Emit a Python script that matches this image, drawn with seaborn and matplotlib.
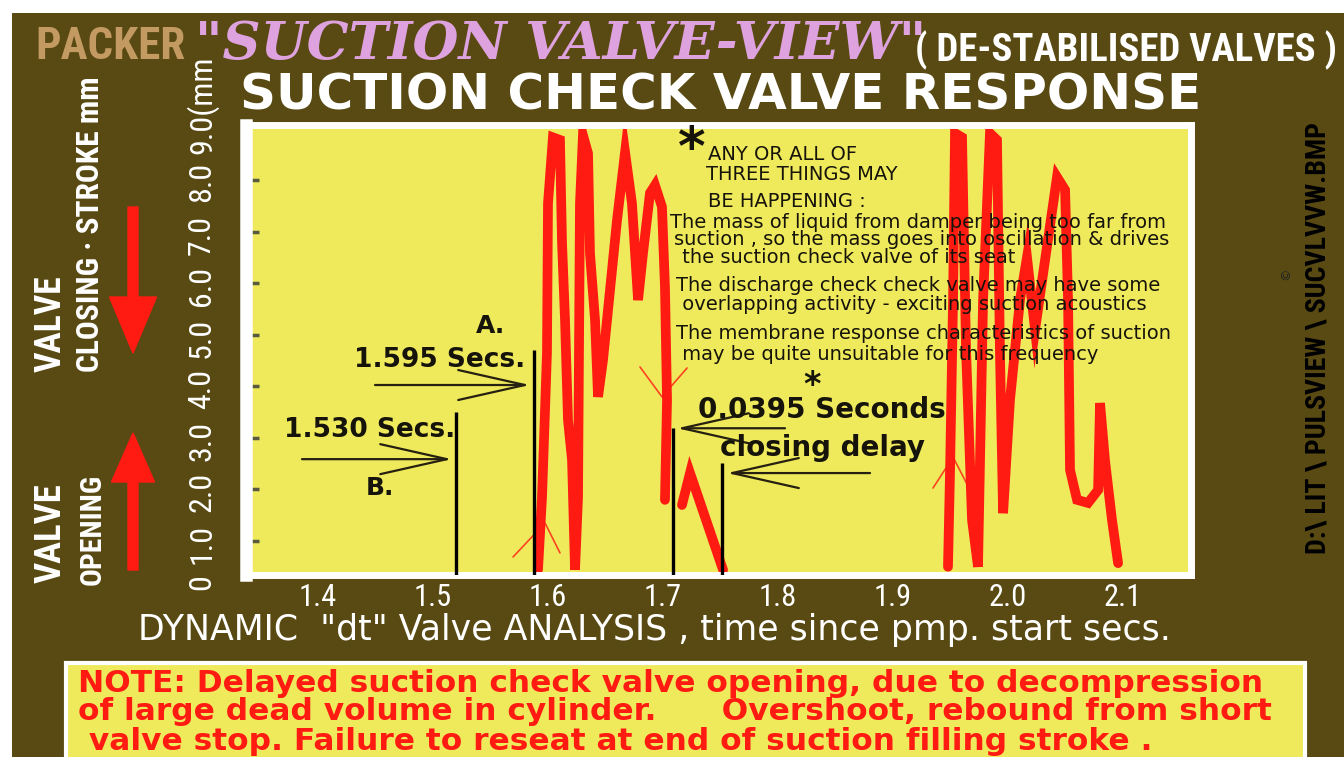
import numpy as np
import pandas as pd
import matplotlib
matplotlib.use('Agg')
import matplotlib.pyplot as plt
import matplotlib.transforms as mtransforms
import matplotlib.font_manager as fm
from matplotlib.patches import Rectangle, FancyArrow
import seaborn as sns

# ---- values: time since pump start (s) vs valve stroke (mm)
burst1_t = [1.5913, 1.5948, 1.5991, 1.6000, 1.6043, 1.6104, 1.6122, 1.6148, 1.6174, 1.6209,
            1.6235, 1.6261, 1.6278, 1.6304, 1.6348, 1.6365, 1.6409, 1.6435, 1.6478, 1.6513,
            1.6600, 1.6670, 1.6730, 1.6783, 1.6826, 1.6887, 1.6930, 1.6991, 1.7017, 1.7035, 1.7017]
burst1_mm = [0.43, 1.84, 4.64, 7.55, 8.83, 8.78, 6.78, 5.28, 3.34, 2.56,
             0.43, 1.84, 7.55, 8.87, 8.52, 6.58, 5.28, 3.79, 4.50, 5.28,
             7.22, 8.54, 7.55, 5.67, 6.58, 7.75, 7.90, 7.48, 5.92, 3.73, 1.79]
rebound_t = [1.7165, 1.7235, 1.7522]
rebound_mm = [1.69, 2.31, 0.43]
burst2_t = [1.9478, 1.9496, 1.9522, 1.9539, 1.9600, 1.9635, 1.9687, 1.9739, 1.9783, 1.9843,
            1.9904, 1.9930, 1.9957, 2.0017, 2.0104, 2.0165, 2.0235, 2.0322, 2.0426, 2.0496,
            2.0522, 2.0539, 2.0600, 2.0696, 2.0783, 2.0800, 2.0843, 2.0904, 2.0957]
burst2_mm = [0.49, 2.37, 5.67, 8.91, 8.83, 4.70, 1.40, 0.49, 5.67, 8.91,
             8.78, 4.64, 1.53, 3.73, 5.67, 6.50, 5.09, 6.45, 8.06, 7.81,
             5.67, 2.37, 1.79, 1.73, 1.98, 3.67, 2.56, 1.40, 0.56]

# timing markers (black verticals) and their pointer arrows
marker_t = [1.520, 1.588, 1.709, 1.751]
marker_top = [3.50, 4.70, 3.18, 2.50]
pointer_tail_t = [1.4496, 1.3861, 1.8061, 1.8800]
pointer_head_t = [1.5843, 1.5165, 1.7122, 1.7557]
pointer_mm = [4.02, 2.58, 3.18, 2.31]

# thin red carets
caret_open_t = [1.5696, 1.5974, 1.6104]
caret_open_mm = [0.68, 1.34, 0.76]
caret_close_t = [1.6800, 1.6991, 1.7209]
caret_close_mm = [4.37, 3.79, 4.35]
caret_reopen_t = [1.9348, 1.9522, 1.9670]
caret_reopen_mm = [2.02, 2.62, 1.98]

x_ticks = [1.4, 1.5, 1.6, 1.7, 1.8, 1.9, 2.0, 2.1]
x_tick_labels = ['1.4', '1.5', '1.6', '1.7', '1.8', '1.9', '2.0', '2.1']
y_ticks = [1, 2, 3, 4, 5, 6, 7, 8]
y_label_pos = [0.20, 0.94, 1.94, 2.94, 3.94, 4.94, 5.94, 6.94, 7.97, 8.50]
y_label_text = ['0', '1.0', '2.0', '3.0', '4.0', '5.0', '6.0', '7.0', '8.0', '9.0(mm']

head_lines = ['ANY OR ALL OF', 'THREE THINGS MAY', 'BE HAPPENING :']
head_t = [1.7391, 1.7374, 1.7391]
head_mm = [8.50, 8.10, 7.59]
notes = ['The mass of liquid from damper being too far from',
         'suction , so the mass goes into oscillation & drives',
         ' the suction check valve of its seat',
         'The discharge check check valve may have some',
         ' overlapping activity - exciting suction acoustics',
         'The membrane response characteristics of suction',
         ' may be quite unsuitable for this frequency']
notes_t = [1.7061, 1.7095, 1.7113, 1.7113, 1.7113, 1.7113, 1.7113]
notes_mm = [7.18, 6.85, 6.49, 5.96, 5.59, 5.03, 4.62]

note_lines = ['NOTE: Delayed suction check valve opening, due to decompression',
              'of large dead volume in cylinder.      Overshoot, rebound from short',
              ' valve stop. Failure to reseat at end of suction filling stroke .']

OLIVE = '#584a12'
YELLOW = '#efe95c'
RED = '#ff1a12'
PINK = '#dea2df'
TAN = '#c29a62'
INK = '#16140a'

sns.set_theme(style='white')
plt.rcParams['font.family'] = ['DejaVu Sans']


# pick a narrow sans face if one is installed
def _num(v, table, default):
    return table.get(v, default) if isinstance(v, str) else v


def pick_narrow(bold):
    prefs = ['Liberation Sans Narrow', 'Roboto Condensed', 'DejaVu Sans', 'Noto Sans', 'Open Sans']
    cands = []
    for f in fm.fontManager.ttflist:
        st = _num(f.stretch, fm.stretch_dict, 500)
        wt = _num(f.weight, fm.weight_dict, 400)
        name = f.name.lower()
        narrow = 'narrow' in name or 'condensed' in name or st < 500
        if narrow and f.style == 'normal' and (wt >= 600) == bold:
            rank = prefs.index(f.name) if f.name in prefs else len(prefs)
            cands.append((rank, abs(st - 300), abs(wt - (700 if bold else 400)), f.fname))
    if cands:
        return sorted(cands)[0][3]
    return fm.findfont(fm.FontProperties(family='Liberation Sans',
                                         weight='bold' if bold else 'normal'))


NARROW_B = pick_narrow(True)
NARROW_R = pick_narrow(False)


def nb(size):
    return fm.FontProperties(fname=NARROW_B, size=size)


def nr(size):
    return fm.FontProperties(fname=NARROW_R, size=size)


W, H = 1344, 757
fig = plt.figure(figsize=(W / 100, H / 100), dpi=100)
fig.patch.set_facecolor('white')
renderer = fig.canvas.get_renderer()


def fx(px):
    return px / W


def fy(py):
    return 1 - py / H


def fit(t, target, use_height=False, max_size=None):
    bb = t.get_window_extent(renderer)
    cur = bb.height if use_height else bb.width
    size = t.get_fontsize() * target / cur
    if max_size is not None:
        size = min(size, max_size)
    t.set_fontsize(size)
    return t


# olive backdrop and the note panel
fig.add_artist(Rectangle((fx(12), -0.01), 1, fy(13) + 0.01, transform=fig.transFigure,
                         facecolor=OLIVE, edgecolor='none', zorder=-2))
fig.add_artist(Rectangle((fx(66), -0.05), fx(1305 - 66), fy(663) + 0.05, transform=fig.transFigure,
                         facecolor=YELLOW, edgecolor='white', lw=3, zorder=-1))

ax = fig.add_axes([fx(246), fy(575), fx(1191 - 246), (575 - 125) / H])
ax.set_facecolor(YELLOW)

df = pd.concat([
    pd.DataFrame({'t': burst1_t, 'mm': burst1_mm, 'seg': 'a'}),
    pd.DataFrame({'t': rebound_t, 'mm': rebound_mm, 'seg': 'b'}),
    pd.DataFrame({'t': burst2_t, 'mm': burst2_mm, 'seg': 'c'}),
])
sns.lineplot(data=df, x='t', y='mm', units='seg', estimator=None, sort=False,
             color=RED, lw=7, ax=ax, solid_joinstyle='miter')

for t, m in [(caret_open_t, caret_open_mm), (caret_close_t, caret_close_mm),
             (caret_reopen_t, caret_reopen_mm)]:
    ax.plot(t, m, color=RED, lw=1.2, alpha=0.8)

ax.set_xlim(1.3374, 2.1591)
ax.set_ylim(0.33, 9.07)
ax.vlines(marker_t, 0.33, marker_top, color='black', lw=2.4, zorder=3)
for t0, t1, m in zip(pointer_tail_t, pointer_head_t, pointer_mm):
    ax.annotate('', xy=(t1, m), xytext=(t0, m),
                arrowprops=dict(arrowstyle='->,head_length=4,head_width=0.9',
                                color='#262010', lw=1.6, shrinkA=0, shrinkB=0))

for sp in ax.spines.values():
    sp.set_color('white')
    sp.set_linewidth(5)
ax.spines['left'].set_linewidth(9)

ax.set_xticks(x_ticks)
ax.set_xticklabels(x_tick_labels, color='white', fontproperties=nr(22))
ax.set_yticks(y_ticks)
ax.set_yticklabels([])
ax.tick_params(axis='x', length=0, pad=6)
ax.tick_params(axis='y', direction='in', left=True, length=9, width=2.5, color='#5a5a40', pad=0)
ax.set_xlabel('')
ax.set_ylabel('')

trans = mtransforms.blended_transform_factory(ax.transAxes, ax.transData)
for v, s in zip(y_label_pos, y_label_text):
    ax.text(-0.047, v, s, transform=trans, rotation=90, ha='center',
            va='bottom' if s.endswith('mm') else 'center', color='white',
            fontproperties=nr(23), clip_on=False)

# annotations in the plot
bold = dict(fontweight='bold', color=INK)
ax.text(1.5496, 5.17, 'A.', ha='center', va='center', fontsize=18, **bold)
ax.text(1.5060, 4.50, '1.595 Secs.', ha='center', va='center', fontsize=19, **bold)
ax.text(1.4452, 3.15, '1.530 Secs.', ha='center', va='center', fontsize=19, **bold)
ax.text(1.4539, 2.02, 'B.', ha='center', va='center', fontsize=18, **bold)
ax.text(1.8383, 3.53, '0.0395 Seconds', ha='center', va='center', fontsize=20, **bold)
ax.text(1.8296, 4.02, '*', ha='center', va='center', fontsize=24, **bold)
ax.text(1.8383, 2.80, 'closing delay', ha='center', va='center', fontsize=20, **bold)

ax.text(1.7252, 8.58, '*', ha='center', va='center', fontsize=38, **bold)
for s, t, m in zip(head_lines, head_t, head_mm):
    ax.text(t, m, s, ha='left', va='center', fontsize=14, color=INK)
for s, t, m in zip(notes, notes_t, notes_mm):
    ax.text(t, m, s, ha='left', va='center', fontsize=14, color=INK)

# headings
fit(fig.text(fx(35), fy(47), 'PACKER', color=TAN, fontproperties=nb(24),
             ha='left', va='center'), 150)
fit(fig.text(fx(195), fy(44), '"SUCTION VALVE-VIEW"', color=PINK, fontsize=40,
             fontweight='bold', style='italic', family='DejaVu Serif',
             ha='left', va='center'), 730)
fit(fig.text(fx(915), fy(50), '( DE-STABILISED VALVES )', color='white',
             fontproperties=nb(24), ha='left', va='center'), 422)
fit(fig.text(fx(240), fy(95), 'SUCTION CHECK VALVE RESPONSE', color='white', fontsize=32,
             fontweight='bold', ha='left', va='center'), 963)

# left side captions and arrows
fit(fig.text(fx(51), fy(372), 'VALVE', color='white', fontproperties=nb(26),
             rotation=90, ha='center', va='bottom'), 97, use_height=True)
fit(fig.text(fx(90), fy(372), 'CLOSING · STROKE mm', color='white', fontproperties=nb(24),
             rotation=90, ha='center', va='bottom'), 297, use_height=True)
fit(fig.text(fx(51), fy(583), 'VALVE', color='white', fontproperties=nb(26),
             rotation=90, ha='center', va='bottom'), 100, use_height=True)
fit(fig.text(fx(93), fy(585), 'OPENING', color='white', fontproperties=nb(24),
             rotation=90, ha='center', va='bottom'), 111, use_height=True)
fig.add_artist(FancyArrow(1.33, (H - 207) / 100, 0, -1.46, width=0.10, head_width=0.47,
                          head_length=0.56, length_includes_head=True, color=RED,
                          transform=fig.dpi_scale_trans))
fig.add_artist(FancyArrow(1.33, (H - 570) / 100, 0, 1.37, width=0.10, head_width=0.43,
                          head_length=0.49, length_includes_head=True, color=RED,
                          transform=fig.dpi_scale_trans))

# right side file path
fit(fig.text(fx(1318), fy(338), 'D:\\ LIT \\ PULSVIEW \\ SUCVLVVW.BMP', color='black',
             fontproperties=nb(20), rotation=90, ha='center', va='center'), 431, use_height=True)
fig.text(fx(1286), fy(274), '©', color='#222', fontsize=9, rotation=90, ha='center', va='center')

# axis caption and note
fit(fig.text(fx(654), fy(630), 'DYNAMIC  "dt" Valve ANALYSIS , time since pmp. start secs.',
             color='white', fontsize=24, ha='center', va='center'), 1232, max_size=25)
note_txt = []
for s, py in zip(note_lines, [683, 712, 742]):
    note_txt.append(fig.text(fx(78), fy(py), s, color=RED, fontsize=22, fontweight='bold',
                             ha='left', va='center'))
fit(note_txt[0], 1217, max_size=22.5)
for t in note_txt[1:]:
    t.set_fontsize(note_txt[0].get_fontsize())

fig.savefig('out.png', dpi=100)
